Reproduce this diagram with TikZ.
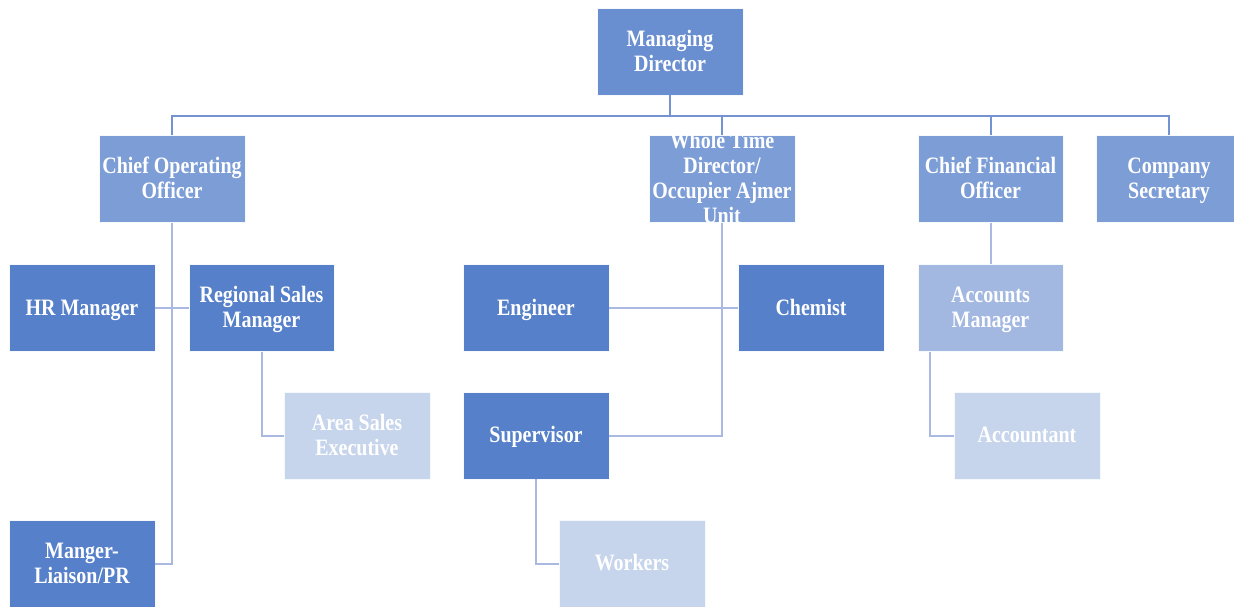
\documentclass[tikz,border=0pt]{standalone}
\usepackage{fontspec}
\setmainfont{Liberation Serif}
\newfontfamily\bx[FakeStretch=0.85]{Liberation Serif}
\newcommand\lb[1]{\rule[-3.5pt]{0pt}{21.5pt}\smash{#1}}
\definecolor{cTop}{HTML}{6A8FD1}
\definecolor{cMid}{HTML}{7D9DD7}
\definecolor{cDark}{HTML}{5680C9}
\definecolor{cAcc}{HTML}{A2B8E1}
\definecolor{cLight}{HTML}{C6D4EC}
\definecolor{lTop}{HTML}{7393D3}
\definecolor{lLow}{HTML}{A9B9E1}
\tikzset{
  orgbox/.style={draw=white!85!cLight, line width=0.8pt, minimum width=146, minimum height=87,
    inner sep=0pt, align=center, text=white, font=\bx\bfseries\fontsize{23.5}{25}\selectfont},
  topline/.style={draw=lTop, line width=2pt},
  lowline/.style={draw=lLow, line width=2pt},
}
\begin{document}
\begin{tikzpicture}[x=1pt,y=-1pt]
\useasboundingbox (0,0) rectangle (1234,606);
\node[orgbox, fill=cTop] (MD) at (670,51.5) {\lb{Managing}\\\lb{Director}};
\node[orgbox, fill=cMid] (COO) at (172,179) {\lb{Chief Operating}\\\lb{Officer}};
\node[orgbox, fill=cMid, inner ysep=-6.5pt] (WTD) at (722,179) {\lb{Whole Time}\\\lb{Director/}\\\lb{Occupier Ajmer}\\\lb{Unit}};
\node[orgbox, fill=cMid, minimum width=145] (CFO) at (990.5,179) {\lb{Chief Financial}\\\lb{Officer}};
\node[orgbox, fill=cMid] (CS) at (1169,179) {\lb{Company}\\\lb{Secretary}};
\node[orgbox, fill=cDark] (HR) at (82,308) {\lb{HR Manager}};
\node[orgbox, fill=cDark, minimum width=145] (RSM) at (261.5,308) {\lb{Regional Sales}\\\lb{Manager}};
\node[orgbox, fill=cLight] (ASE) at (357,435.5) {\lb{Area Sales}\\\lb{Executive}};
\node[orgbox, fill=cDark] (ML) at (82,563.5) {\lb{Manger-}\\\lb{Liaison/PR}};
\node[orgbox, fill=cDark] (ENG) at (536,308) {\lb{Engineer}};
\node[orgbox, fill=cDark] (CHEM) at (811,308) {\lb{Chemist}};
\node[orgbox, fill=cDark] (SUP) at (536,435.5) {\lb{Supervisor}};
\node[orgbox, fill=cLight] (WRK) at (632,563.5) {\lb{Workers}};
\node[orgbox, fill=cAcc, minimum width=145] (AM) at (990.5,308) {\lb{Accounts}\\\lb{Manager}};
\node[orgbox, fill=cLight] (ACC) at (1027,435.5) {\lb{Accountant}};
% top level connectors
\coordinate (bus) at (670,116);
\draw[topline] (MD.south) -- (MD.south |- bus);
\draw[topline] (COO.north) -- (COO.north |- bus) -| (CS.north);
\draw[topline] (WTD.north |- bus) -- (WTD.north);
\draw[topline] (CFO.north |- bus) -- (CFO.north);
% lower connectors
\draw[lowline] (COO.south) |- (ML.east);
\draw[lowline] (HR.east) -- (RSM.west);
\draw[lowline] (RSM.south) |- (ASE.west);
\draw[lowline] (WTD.south) |- (SUP.east);
\draw[lowline] (ENG.east) -- (CHEM.west);
\draw[lowline] (SUP.south) |- (WRK.west);
\draw[lowline] (CFO.south) -- (AM.north);
\draw[lowline] ([xshift=12]AM.south west) |- (ACC.west);
\end{tikzpicture}
\end{document}
